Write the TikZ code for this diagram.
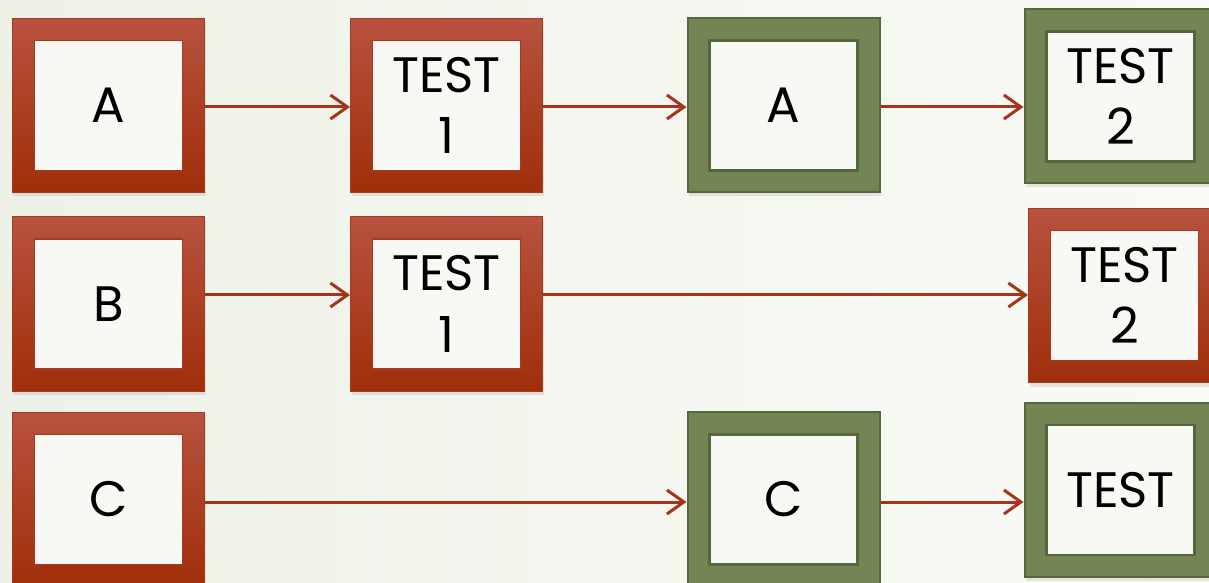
\documentclass[tikz,border=0pt]{standalone}
\usepackage{fontspec}
\setmainfont{Poppins}
\usetikzlibrary{arrows.meta,shadows}

\definecolor{bgleft}{HTML}{EEF1E7}
\definecolor{bgright}{HTML}{F9FAF6}
\definecolor{redtop}{HTML}{B8523F}
\definecolor{redbot}{HTML}{A02E0A}
\definecolor{redline}{HTML}{A33A22}
\definecolor{greenfill}{HTML}{738553}
\definecolor{greenline}{HTML}{56663F}
\definecolor{innerwhite}{HTML}{F8F9F5}
\definecolor{arrowred}{HTML}{A8321A}

\tikzset{
  box/.style={rectangle, minimum width=192bp, minimum height=174bp, inner sep=0pt,
    align=center, font=\fontsize{50}{62}\selectfont,
    drop shadow={opacity=0.18, shadow xshift=1bp, shadow yshift=-4bp}},
  redbox/.style={box, draw=redline, line width=1bp, top color=redtop, bottom color=redbot,
    path picture={\draw[redline, line width=1.2bp, fill=innerwhite]
      ([shift={(22bp,22bp)}]path picture bounding box.south west) rectangle
      ([shift={(-22bp,-22bp)}]path picture bounding box.north east);}},
  greenbox/.style={box, draw=greenline, line width=2bp, fill=greenfill,
    path picture={\draw[greenline, line width=2.5bp, fill=innerwhite]
      ([shift={(22bp,22bp)}]path picture bounding box.south west) rectangle
      ([shift={(-22bp,-22bp)}]path picture bounding box.north east);}},
  arr/.style={arrowred, line width=3bp, -{Straight Barb[length=17bp,width=24bp]}}
}

\begin{document}
\begin{tikzpicture}[x=1bp, y=-1bp]
  % Page and background
  \useasboundingbox (0,0) rectangle (1209,583);
  \clip (0,0) rectangle (1209,583);
  \shade[left color=bgleft, right color=bgright] (0,0) rectangle (1209,583);

  % Arrow rows
  \coordinate (r1) at (0,107);
  \coordinate (r2) at (0,295);
  \coordinate (r3) at (0,502);

  % Row A
  \node[redbox]   (A)   at (108.5,105.5)  {A};
  \node[redbox]   (TA1) at (446.5,105.5)  {TEST\\1};
  \node[greenbox] (A2)  at (783.5,105.5)  {A};
  \node[greenbox] (TA2) at (1120.5,96.5)  {TEST\\2};

  % Row B
  \node[redbox]   (B)   at (108.5,304)    {B};
  \node[redbox]   (TB1) at (446.5,304)    {TEST\\1};
  \node[redbox]   (TB2) at (1124.5,295.5) {TEST\\2};

  % Row C
  \node[redbox]   (C)   at (108.5,499.5)  {C};
  \node[greenbox] (C2)  at (783.5,499.5)  {C};
  \node[greenbox] (TC)  at (1120.5,490)   {TEST};

  % Draw arrows
  \draw[arr] (A.east |- r1) -- (TA1.west |- r1);
  \draw[arr] (TA1.east |- r1) -- (A2.west |- r1);
  \draw[arr] (A2.east |- r1) -- (TA2.west |- r1);

  \draw[arr] (B.east |- r2) -- (TB1.west |- r2);
  \draw[arr] (TB1.east |- r2) -- (TB2.west |- r2);

  \draw[arr] (C.east |- r3) -- (C2.west |- r3);
  \draw[arr] (C2.east |- r3) -- (TC.west |- r3);
\end{tikzpicture}
\end{document}
